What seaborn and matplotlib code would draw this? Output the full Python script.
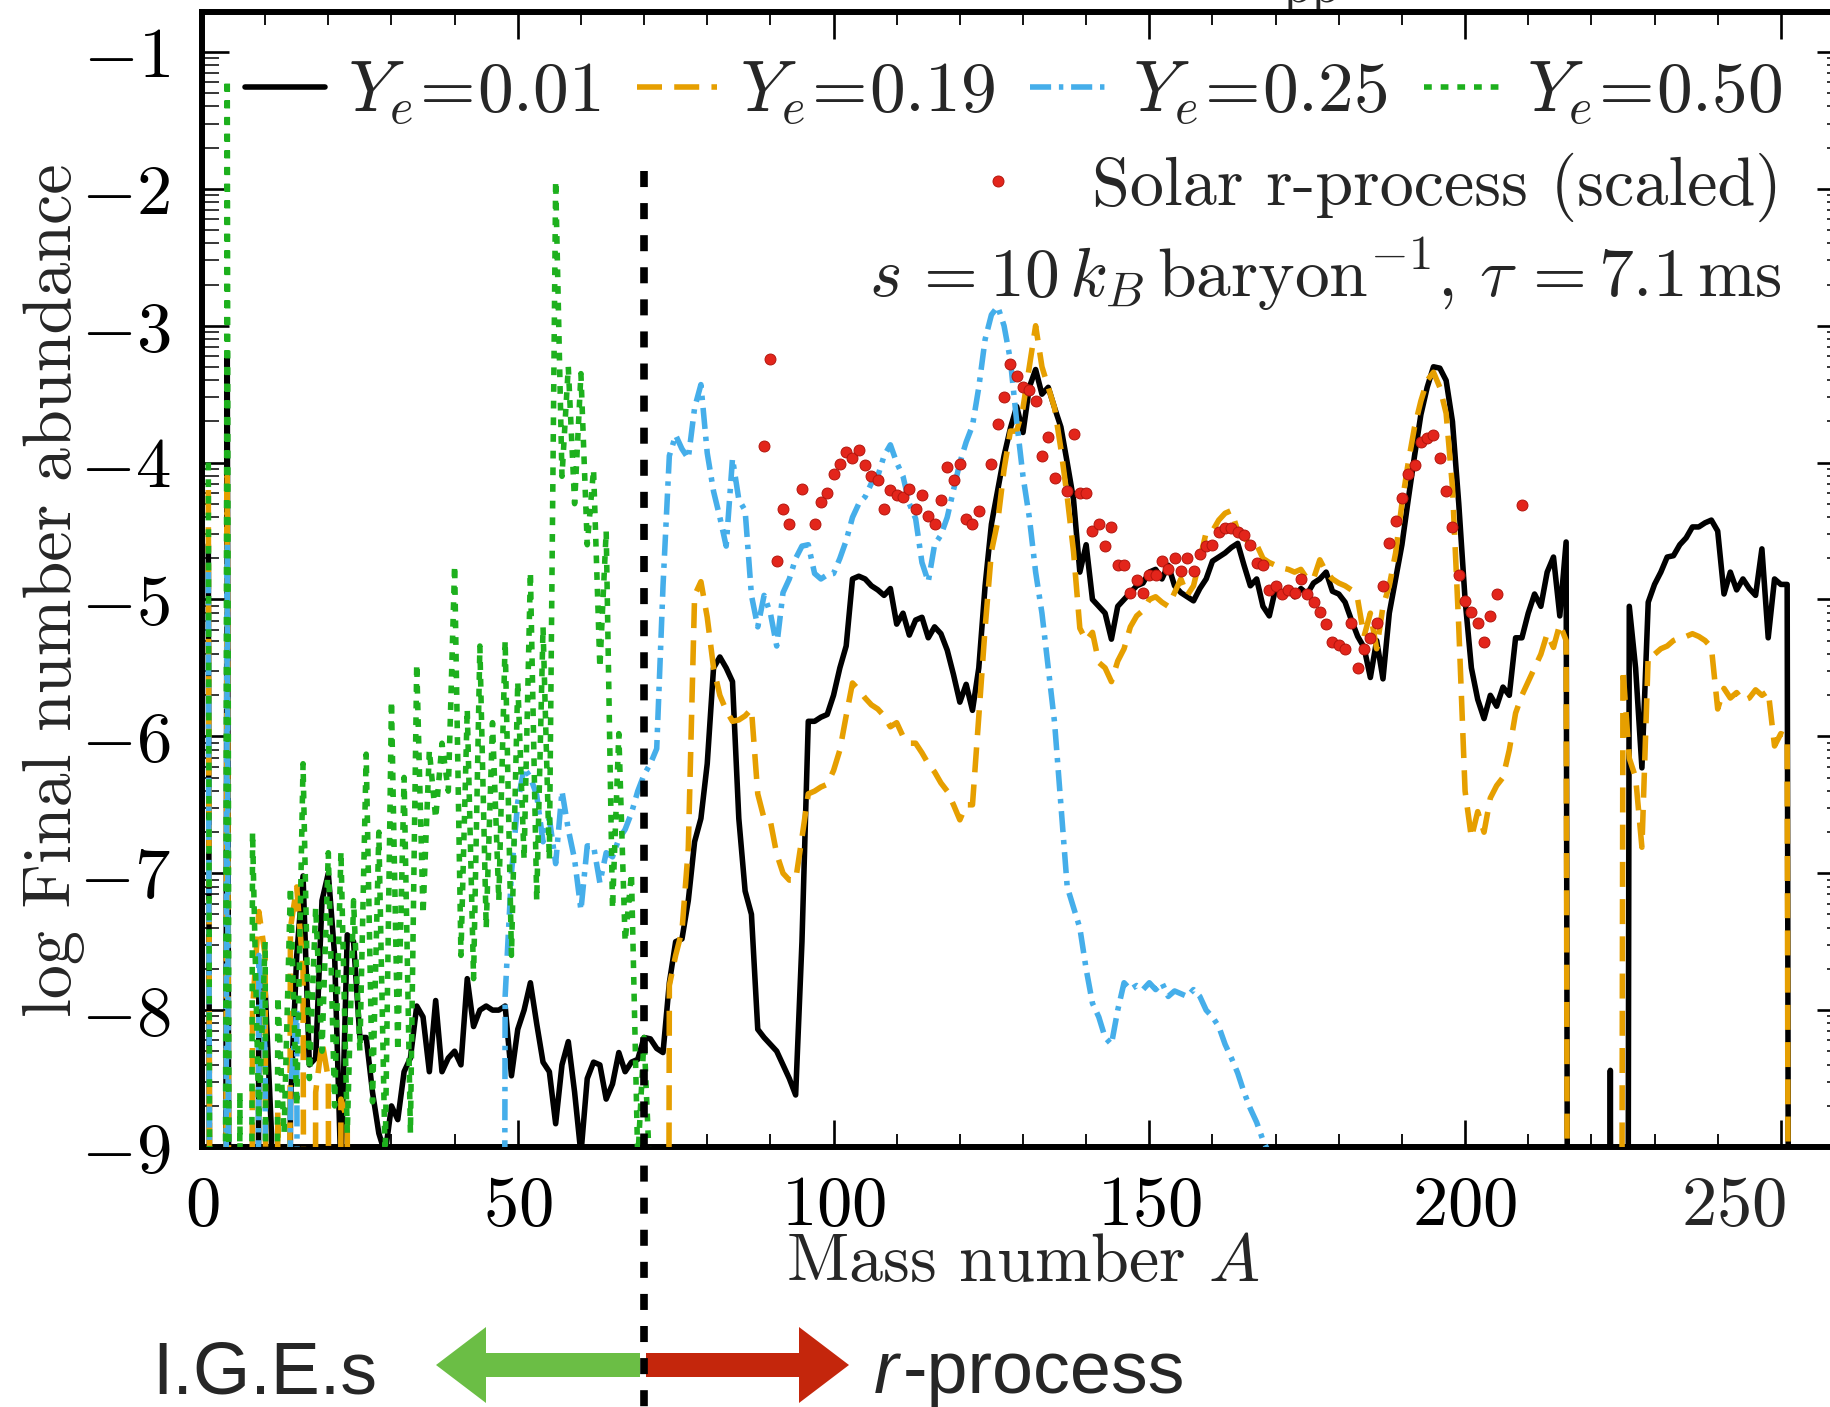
import numpy as np
import pandas as pd
import matplotlib
matplotlib.use("Agg")
import matplotlib.pyplot as plt
import matplotlib.ticker as mticker
import matplotlib.transforms as mtransforms
from matplotlib.lines import Line2D
from matplotlib.patches import FancyArrow
import seaborn as sns

# log10 value used for isotopes that are absent (far below the plotted floor)
F = -30.0

# ---------------- final abundances, log10 Y(A) ----------------
# Y_e = 0.01
ye001_A = [1, 2, 3, 4, 5, 8] + list(range(9, 218)) + [222, 223, 224] + list(range(225, 253))
ye001_log = [
    -4.6, F, F, -3.2, F, F,
    -7.8,
    -7.85, -8.9, F, F, -8.7, -7.6, -7.02, -8.4, -8.35, -7.2,            # 10-19
    -7.0, -7.6, -9.2, -7.45, -7.5, -8.2, -8.2, -8.6, -8.9, -9.05,       # 20-29
    -8.7, -8.8, -8.45, -8.35, -7.97, -8.05, -8.45, -7.93, -8.45, -8.35, # 30-39
    -8.3, -8.4, -7.77, -8.12, -8.0, -7.97, -8.0, -8.0, -7.97, -8.48,    # 40-49
    -8.14, -8.0, -7.8, -8.1, -8.38, -8.45, -8.83, -8.4, -8.23, -8.6,    # 50-59
    -9.05, -8.5, -8.38, -8.4, -8.65, -8.54, -8.31, -8.45, -8.38, -8.36, # 60-69
    -8.2, -8.21, -8.28, -8.31, -7.8, -7.5, -7.48, -7.2, -6.77, -6.6,    # 70-79
    -6.2, -5.5, -5.42, -5.5, -5.6, -6.6, -7.13, -7.3, -8.14, -8.2,      # 80-89
    -8.25, -8.3, -8.4, -8.5, -8.62, -7.5, -5.89, -5.89, -5.86, -5.84,   # 90-99
    -5.7, -5.5, -5.34, -4.85, -4.83, -4.85, -4.9, -4.93, -4.97, -4.92,  # 100-109
    -5.18, -5.1, -5.26, -5.15, -5.13, -5.28, -5.2, -5.25, -5.37, -5.55, # 110-119
    -5.75, -5.62, -5.81, -5.5, -4.9, -4.45, -4.2, -3.95, -3.75, -3.59,  # 120-129
    -3.78, -3.45, -3.32, -3.5, -3.45, -3.6, -3.74, -4.0, -4.27, -4.8,   # 130-139
    -4.6, -5.0, -5.05, -5.1, -5.29, -5.05, -5.0, -4.95, -4.9, -4.88,    # 140-149
    -4.8, -4.78, -4.85, -4.75, -4.9, -4.95, -4.98, -5.01, -4.92, -4.85, # 150-159
    -4.72, -4.69, -4.66, -4.62, -4.59, -4.75, -4.9, -4.85, -5.05, -5.12,# 160-169
    -4.92, -4.95, -4.92, -4.98, -4.92, -4.96, -4.88, -4.85, -4.8, -4.94,# 170-179
    -4.96, -5.02, -5.15, -5.27, -5.35, -5.57, -5.3, -5.58, -5.1, -4.85, # 180-189
    -4.6, -4.27, -3.95, -3.65, -3.45, -3.3, -3.31, -3.4, -3.7, -4.3,    # 190-199
    -5.0, -5.5, -5.73, -5.87, -5.7, -5.78, -5.64, -5.7, -5.28, -5.28,   # 200-209
    -5.1, -4.96, -5.05, -4.8, -4.69, -5.12, -4.58, F,                   # 210-217
    F, -8.44, F,                                                        # 222-224
    F, -5.05, -5.5, -6.23, -5.02,                                       # 225-229
    -4.89, -4.8, -4.69, -4.68, -4.6, -4.55, -4.47, -4.47, -4.44, -4.42, # 230-239
    -4.5, -4.96, -4.8, -4.93, -4.85, -4.92, -4.97, -4.63, -5.28, -4.85, # 240-249
    -4.89, -4.89, F,                                                    # 250-252
]

# Y_e = 0.19
ye019_A = [1, 2, 3, 4, 5, 7] + list(range(8, 25)) + list(range(73, 218)) + list(range(224, 253))
ye019_log = [
    -4.2, F, F, -4.1, F, F,
    -8.0, -7.28,                                                        # 8-9
    -7.6, F, -8.74, F, -7.4, -7.1, -7.7, F, -8.6, -8.23,                # 10-19
    -8.5, F, -8.65, -8.8, F,                                            # 20-24
    F, -7.82, -7.6, -7.42, -6.82, -4.97, -4.87,                         # 73-79
    -5.13, -5.5, -5.7, -5.81, -5.89, -5.88, -5.85, -5.8, -6.42, -6.6,   # 80-89
    -6.62, -6.86, -7.0, -7.05, -7.05, -6.74, -6.42, -6.4, -6.37, -6.35, # 90-99
    -6.25, -6.1, -5.85, -5.61, -5.66, -5.72, -5.77, -5.8, -5.85, -5.93, # 100-109
    -5.9, -6.0, -6.05, -6.05, -6.12, -6.2, -6.26, -6.34, -6.4, -6.5,    # 110-119
    -6.61, -6.5, -6.5, -5.85, -5.21, -4.65, -4.43, -4.05, -3.77, -3.77, # 120-129
    -3.6, -3.3, -3.0, -3.3, -3.45, -3.6, -3.9, -4.25, -4.65, -5.21,     # 130-139
    -5.3, -5.24, -5.46, -5.5, -5.6, -5.45, -5.36, -5.2, -5.12, -5.08,   # 140-149
    -5.0, -4.98, -5.02, -5.05, -4.95, -4.85, -4.97, -4.9, -4.71, -4.51, # 150-159
    -4.5, -4.42, -4.37, -4.35, -4.5, -4.55, -4.59, -4.6, -4.7, -4.73,   # 160-169
    -4.75, -4.77, -4.78, -4.8, -4.78, -4.85, -4.85, -4.71, -4.8, -4.85, # 170-179
    -4.88, -4.9, -4.93, -5.0, -5.27, -5.1, -5.36, -5.05, -4.9, -4.66,   # 180-189
    -4.3, -4.0, -3.74, -3.55, -3.4, -3.34, -3.45, -3.64, -4.18, -5.2,   # 190-199
    -6.4, -6.74, -6.55, -6.7, -6.45, -6.36, -6.3, -6.1, -5.83, -5.7,    # 200-209
    -5.6, -5.5, -5.4, -5.25, -5.35, -5.18, -5.3, F,                     # 210-217
    F, -5.51, -6.16, -6.3, -6.81, -5.41,                                # 224-229
    -5.4, -5.36, -5.34, -5.3, -5.28, -5.27, -5.25, -5.27, -5.3, -5.35,  # 230-239
    -5.8, -5.65, -5.72, -5.68, -5.74, -5.72, -5.66, -5.7, -5.67, -6.07, # 240-249
    -5.98, -6.0, F,                                                     # 250-252
]

# Y_e = 0.25
ye025_A = [1, 2, 3, 4, 5, 8, 9, 10, 11, 13, 14, 15, 16] + list(range(47, 172))
ye025_log = [
    -4.8, F, F, -4.6, F, F, -7.6, -8.3, F, F, -8.6, -8.0, F,
    F, -7.9, -7.0,                                                      # 47-49
    -6.48, -6.23, -6.3, -6.43, -6.77, -6.6, -6.93, -6.4, -6.68, -6.9,   # 50-59
    -7.27, -6.8, -6.8, -7.07, -6.85, -6.88, -6.75, -6.68, -6.56, -6.4,  # 60-69
    -6.28, -6.2, -6.09, -4.9, -3.95, -3.8, -3.9, -3.97, -3.6, -3.43,    # 70-79
    -3.93, -4.21, -4.4, -4.61, -3.97, -4.27, -4.35, -4.97, -5.2, -4.97, # 80-89
    -5.1, -5.34, -4.95, -4.85, -4.7, -4.61, -4.6, -4.81, -4.85, -4.82,  # 90-99
    -4.81, -4.7, -4.57, -4.4, -4.3, -4.25, -4.15, -4.1, -3.95, -3.87,   # 100-109
    -4.0, -4.1, -4.3, -4.41, -4.73, -4.87, -4.6, -4.53, -4.4, -4.2,     # 110-119
    -4.0, -3.85, -3.73, -3.45, -3.1, -2.92, -2.86, -3.0, -3.25, -3.7,   # 120-129
    -4.1, -4.4, -4.8, -5.1, -5.5, -5.9, -6.5, -7.1, -7.25, -7.4,        # 130-139
    -7.7, -7.95, -8.05, -8.2, -8.25, -8.0, -7.8, -7.85, -7.82, -7.85,   # 140-149
    -7.8, -7.85, -7.8, -7.9, -7.86, -7.88, -7.9, -7.85, -7.9, -8.0,     # 150-159
    -8.05, -8.12, -8.25, -8.35, -8.46, -8.6, -8.72, -8.82, -8.95, -9.05,# 160-169
    -9.3, F,                                                            # 170-171
]

# Y_e = 0.50
ye050_A = list(range(1, 73))
ye050_log = [
    -4.0, F, F, -1.2, F, -8.6, F, -6.7, -8.8,                           # 1-9
    -7.5, F, -7.9, -8.9, -7.1, -8.7, -6.2, -8.5, -7.25, -8.3,           # 10-19
    -6.85, -8.7, -6.84, -8.9, -7.2, -8.3, -6.13, -8.67, -6.7, -9.1,     # 20-29
    -5.74, -8.3, -6.3, -8.9, -5.47, -7.3, -6.1, -6.6, -6.05, -6.4,      # 30-39
    -4.75, -7.6, -5.8, -7.77, -5.34, -7.4, -5.9, -7.2, -5.3, -7.6,      # 40-49
    -5.6, -6.9, -4.8, -7.2, -5.2, -6.9, -1.94, -4.1, -3.3, -4.3,        # 50-59
    -3.35, -4.6, -4.05, -5.5, -4.5, -7.26, -5.98, -7.5, -7.0, -9.1,     # 60-69
    -8.2, -9.3, F,                                                      # 70-72
]

# Solar r-process pattern (scaled)
solar_A = [89, 90, 91, 92, 93, 95, 97, 98, 99, 100, 101, 102, 103, 104, 105, 106,
           107, 108, 109, 110, 111, 112, 113, 114, 115, 116, 117, 118, 119, 120,
           121, 122, 123, 125, 126, 127, 128, 129, 130, 131, 132, 133, 134, 135,
           137, 138, 139, 140, 141, 142, 143, 144, 145, 146, 147, 148, 149, 150,
           151, 152, 153, 154, 155, 156, 157, 158, 159, 160, 161, 162, 163, 164,
           165, 166, 167, 168, 169, 170, 171, 172, 173, 174, 175, 176, 177, 178,
           179, 180, 181, 182, 183, 184, 185, 186, 187, 188, 189, 190, 191, 192,
           193, 194, 195, 196, 197, 198, 199, 200, 201, 202, 203, 204, 205, 209]
solar_log = [-3.88, -3.24, -4.72, -4.34, -4.45, -4.19, -4.45, -4.29, -4.22, -4.08,
             -4.01, -3.92, -3.97, -3.91, -4.02, -4.1, -4.13, -4.34, -4.2, -4.24,
             -4.25, -4.19, -4.34, -4.24, -4.39, -4.45, -4.27, -4.03, -4.13, -4.01,
             -4.41, -4.45, -4.35, -4.01, -3.72, -3.52, -3.28, -3.37, -3.45, -3.47,
             -3.55, -3.95, -3.81, -4.11, -4.21, -3.79, -4.22, -4.22, -4.5, -4.45,
             -4.61, -4.47, -4.75, -4.75, -4.95, -4.86, -4.95, -4.82, -4.82, -4.72,
             -4.78, -4.7, -4.79, -4.7, -4.79, -4.67, -4.61, -4.6, -4.51, -4.48,
             -4.48, -4.51, -4.53, -4.6, -4.73, -4.75, -4.93, -4.9, -4.96, -4.93,
             -4.95, -4.85, -4.96, -5.02, -5.09, -5.18, -5.31, -5.33, -5.36, -5.17,
             -5.5, -5.36, -5.28, -5.17, -4.9, -4.59, -4.43, -4.26, -4.08, -4.02,
             -3.85, -3.82, -3.8, -3.97, -4.21, -4.47, -4.82, -5.01, -5.09, -5.17,
             -5.31, -5.12, -4.96, -4.31]

series_labels = [r"$Y_e\!=\!0.01$", r"$Y_e\!=\!0.19$", r"$Y_e\!=\!0.25$", r"$Y_e\!=\!0.50$"]
x_ticks = [0, 50, 100, 150, 200, 250]
A_split = 70  # boundary between iron-group elements and r-process nuclei

# ---------------- styling ----------------
sns.set_style("ticks")
plt.rcParams.update({
    "font.family": ["cmr10", "DejaVu Serif"],
    "mathtext.fontset": "cm",
    "axes.unicode_minus": False,
    "axes.formatter.use_mathtext": True,
    "axes.linewidth": 4.3,
    "axes.edgecolor": "black",
    "xtick.color": "black",
    "ytick.color": "black",
})

FS = 51          # tick labels and math legend entries
FS_TXT = 49      # plain roman text
LW = 4.0
colors = ["#000000", "#E69F00", "#45AEEA", "#1DB01D"]
styles = ["-", (0, (4.5, 2.2)), (0, (3.8, 1.4, 0.8, 1.4)), (0, (1.4, 1.6))]

fig = plt.figure(figsize=(18.31, 14.07), dpi=100)
W, H = 1831.0, 1407.0
ax = fig.add_axes([202 / W, 1 - 1147 / H, 1642 / W, 1135 / H])
ax.set_yscale("log")

data = [(ye001_A, ye001_log), (ye019_A, ye019_log), (ye025_A, ye025_log), (ye050_A, ye050_log)]
for i, ((A, lg), lab, col, ls) in enumerate(zip(data, series_labels, colors, styles)):
    df = pd.DataFrame({"A": A, "Y": np.power(10.0, np.asarray(lg, dtype=float))})
    sns.lineplot(data=df, x="A", y="Y", ax=ax, color=col, lw=LW, linestyle=ls,
                 label=lab, legend=False, estimator=None, sort=False, zorder=2 + i)

solar_df = pd.DataFrame({"A": solar_A, "Y": np.power(10.0, np.asarray(solar_log))})
sns.scatterplot(data=solar_df, x="A", y="Y", ax=ax, color="#E3251B", s=62,
                edgecolor="#B3150D", linewidth=0.7, zorder=8, legend=False)

ax.set_xlim(0, 260)
ax.set_ylim(1e-9, 10 ** -0.708)

# axis ticks
ax.xaxis.set_major_locator(mticker.FixedLocator(x_ticks))
ax.xaxis.set_minor_locator(mticker.MultipleLocator(10))
ax.xaxis.set_major_formatter(mticker.FuncFormatter(
    lambda v, p: "" if v >= 250 else rf"${int(v)}$"))
ax.yaxis.set_major_locator(mticker.LogLocator(base=10, numticks=20))
ax.yaxis.set_minor_locator(mticker.LogLocator(base=10, subs=np.arange(2, 10), numticks=20))
ax.yaxis.set_major_formatter(mticker.FuncFormatter(
    lambda v, p: rf"$-{abs(int(round(np.log10(v))))}$"))
ax.yaxis.set_minor_formatter(mticker.NullFormatter())

XPAD, YPAD = 20, 23
ax.tick_params(which="both", direction="in", top=True, right=True)
ax.tick_params(which="major", length=19.5, width=1.9, labelsize=FS)
ax.tick_params(which="minor", length=9.5, width=1.3)
ax.tick_params(axis="y", which="minor", length=12, width=1.1)
ax.tick_params(axis="x", pad=XPAD)
ax.tick_params(axis="y", pad=YPAD)
for sp in ax.spines.values():
    sp.set_linewidth(4.3)

# the last tick label sits a little left of its tick
lab_tr = mtransforms.blended_transform_factory(ax.transData, ax.transAxes)
ax.text(242.6, -(XPAD * 100 / 72) / 1135, r"$250$", transform=lab_tr,
        ha="center", va="top", fontsize=FS)

ax.set_xlabel(r"Mass number $A$", fontsize=FS_TXT)
ax.set_ylabel("log Final number abundance", fontsize=FS_TXT)
ax.xaxis.set_label_coords(0.5, -0.0758)
ax.xaxis.label.set_va("top")
ax.yaxis.set_label_coords(-0.0715, 0.4907)

# legends
handles, labels = ax.get_legend_handles_labels()
leg1 = ax.legend(handles[:4], labels[:4], loc="center right", bbox_to_anchor=(0.9622, 0.928),
                 ncol=4, frameon=False, fontsize=FS + 0.5, handlelength=1.12, handletextpad=0.32,
                 columnspacing=0.5, borderpad=0, borderaxespad=0)
ax.add_artist(leg1)
solar_handle = Line2D([], [], ls="none", marker="o", ms=7.9, mfc="#E3251B", mec="#B3150D", mew=0.7)
ax.legend([solar_handle], ["Solar r-process (scaled)"], loc="center right",
          bbox_to_anchor=(0.9622, 0.8458), frameon=False, fontsize=FS_TXT, numpoints=1,
          handlelength=1.2, handletextpad=0.78, borderpad=0, borderaxespad=0)
ax.text(0.9622, 0.7489, r"$s\,= 10\,k_B\,\mathrm{baryon}^{-1}$, $\tau\,= 7.1\,\mathrm{ms}$",
        transform=ax.transAxes, ha="right", va="baseline", fontsize=FS - 1)

# boundary between I.G.E.s and r-process, continued below the axes
split_tr = mtransforms.blended_transform_factory(ax.transData, fig.transFigure)
fig.add_artist(Line2D([A_split, A_split], [1 - 171 / H, 0.0], transform=split_tr,
                      color="black", lw=5.5, linestyle=(0, (2.1, 2.1)), zorder=20))

# annotation layer in pixel units
ov = fig.add_axes([0, 0, 1, 1], zorder=-1)
ov.set_xlim(0, W)
ov.set_ylim(H, 0)
ov.set_axis_off()
ov.patch.set_alpha(0)
ov.add_patch(FancyArrow(640, 1365, -204, 0, width=24, head_width=76, head_length=50,
                        length_includes_head=True, color="#6BBE45", lw=0))
ov.add_patch(FancyArrow(646, 1365, 203, 0, width=24, head_width=76, head_length=50,
                        length_includes_head=True, color="#C4260C", lw=0))
ov.text(152, 1393, "I.G.E.s", fontsize=53, family="Liberation Sans", ha="left", va="baseline")
ov.text(874, 1393, "r", fontsize=53, family="Liberation Sans", style="italic",
        ha="left", va="baseline")
ov.text(903, 1393, "-process", fontsize=53, family="Liberation Sans", ha="left", va="baseline")
ov.text(1283, 2, "pp", fontsize=37.5, ha="left", va="baseline")

fig.savefig("out.png", dpi=100)
